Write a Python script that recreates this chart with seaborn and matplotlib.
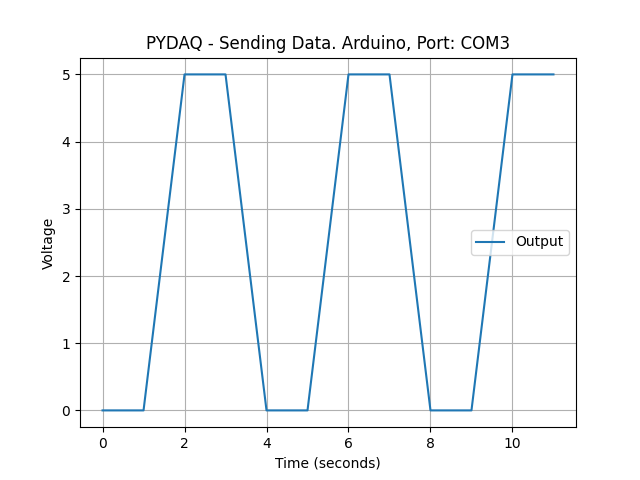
import seaborn as sns
import matplotlib.pyplot as plt
import pandas as pd

# Values
time_s = [0, 1, 2, 3, 4, 5, 6, 7, 8, 9, 10, 11]
voltage = [0, 0, 5, 5, 0, 0, 5, 5, 0, 0, 5, 5]

df = pd.DataFrame({'Time (seconds)': time_s, 'Voltage': voltage})

fig, ax = plt.subplots(figsize=(6.4, 4.8), dpi=100)
sns.lineplot(data=df, x='Time (seconds)', y='Voltage', ax=ax,
             color='#1f77b4', label='Output')
ax.set_title('PYDAQ - Sending Data. Arduino, Port: COM3')
ax.grid(True)
ax.legend(loc='center right')
fig.savefig('out.png', dpi=100)
